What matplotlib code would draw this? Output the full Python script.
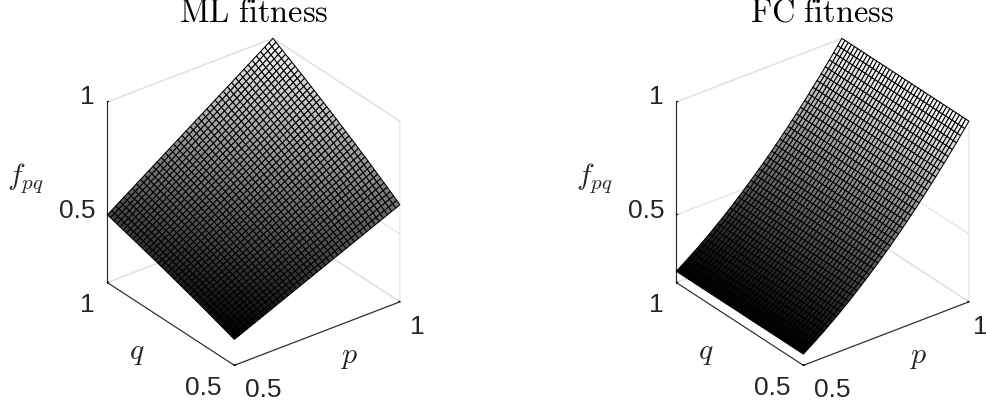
import numpy as np
import matplotlib
matplotlib.use("Agg")
import matplotlib.pyplot as plt

# grid of the surface (same for p and q)
p_grid = [0.5, 0.5125, 0.525, 0.5375, 0.55, 0.5625, 0.575, 0.5875, 0.6, 0.6125, 0.625, 0.6375, 0.65, 0.6625,
          0.675, 0.6875, 0.7, 0.7125, 0.725, 0.7375, 0.75, 0.7625, 0.775, 0.7875, 0.8, 0.8125, 0.825, 0.8375,
          0.85, 0.8625, 0.875, 0.8875, 0.9, 0.9125, 0.925, 0.9375, 0.95, 0.9625, 0.975, 0.9875, 1.0]
q_grid = list(p_grid)

# ML surface is (p value) * (q factor), q factor read along the edges
ml_q_factor = [0.630, 0.640, 0.651, 0.661, 0.671, 0.681, 0.691, 0.701, 0.711, 0.721, 0.731, 0.741, 0.750, 0.760,
               0.770, 0.779, 0.788, 0.798, 0.807, 0.816, 0.826, 0.835, 0.844, 0.853, 0.862, 0.871, 0.880, 0.889,
               0.897, 0.906, 0.915, 0.924, 0.932, 0.941, 0.949, 0.958, 0.966, 0.975, 0.983, 0.992, 1.0]

# FC surface only changes with p
fc_p_values = [0.250, 0.263, 0.276, 0.289, 0.303, 0.316, 0.331, 0.345, 0.360, 0.375, 0.391, 0.406, 0.423, 0.439,
               0.456, 0.473, 0.490, 0.508, 0.526, 0.544, 0.563, 0.581, 0.601, 0.620, 0.640, 0.660, 0.681, 0.701,
               0.723, 0.744, 0.766, 0.788, 0.810, 0.833, 0.856, 0.879, 0.903, 0.926, 0.951, 0.975, 1.0]

titles = ["ML fitness", "FC fitness"]
z_ticks = [0.5, 1]
pq_ticks = [0.5, 1]

plt.rcParams['mathtext.fontset'] = 'cm'
plt.rcParams['font.family'] = ['Liberation Sans', 'DejaVu Sans']
plt.rcParams['grid.color'] = '#e2e2e2'
plt.rcParams['grid.linewidth'] = 0.8

fig_w, fig_h = 987, 408
fig = plt.figure(figsize=(fig_w / 100, fig_h / 100), dpi=100)

P, Q = np.meshgrid(p_grid, q_grid)
Z_ml = np.outer(ml_q_factor, p_grid)
Z_fc = np.tile(fc_p_values, (len(q_grid), 1))


def put_text(x_px, y_px, s, size, color='#262626'):
    # pixel position from the top left corner, like in the picture
    fig.text(x_px / fig_w, 1 - y_px / fig_h, s, fontsize=size, color=color, ha='center', va='center')


def draw_panel(left_px, z, title, dx, p_one_x):
    side = 350.8
    ax = fig.add_axes([left_px / fig_w, 26 / fig_h, side / fig_w, side / fig_h], projection='3d', proj_type='ortho')
    ax.patch.set_alpha(0)
    ax.view_init(elev=30, azim=-127.5)
    ax.set_box_aspect((1, 1, 1))

    # MATLAB style colour by height, black mesh on top
    norm = plt.Normalize(z.min(), z.max())
    ax.plot_surface(P, Q, z, rstride=1, cstride=1, facecolors=plt.cm.gray(norm(z)), shade=False,
                    edgecolor='black', linewidth=0.75)

    ax.set_xlim(0.5, 1, view_margin=0)
    ax.set_ylim(0.5, 1, view_margin=0)
    ax.set_zlim(0.2, 1, view_margin=0)
    ax.set_xticks(pq_ticks, ['', ''])
    ax.set_yticks(pq_ticks, ['', ''])
    ax.set_zticks(z_ticks, ['', ''])

    for axis in (ax.xaxis, ax.yaxis, ax.zaxis):
        axis.set_pane_color((1, 1, 1, 1))
        axis.pane.set_edgecolor('#e2e2e2')
        axis.line.set_color('#262626')
        axis.line.set_linewidth(0.8)
        axis._axinfo['tick']['inward_factor'] = 0
        axis._axinfo['tick']['outward_factor'] = 0.1
        axis._axinfo['tick']['linewidth'] = {True: 0.8, False: 0.5}
        axis._axinfo['tick']['color'] = '#262626'

    # box centre is a bit right of the axes centre
    ax.set_title(r'$\mathrm{' + title.replace(' ', r'\ ') + '}$', fontsize=23.3, x=0.513, y=1.0, pad=27)

    # tick labels
    put_text(87.5 + dx, 97.5, '1', 19)
    put_text(77 + dx, 210.5, '0.5', 19)
    put_text(87 + dx, 305, '1', 19)
    put_text(203 + dx, 388, '0.5', 19)
    put_text(263 + dx, 390, '0.5', 19)
    put_text(p_one_x, 327, '1', 19)

    # axis labels
    put_text(350 + dx, 357, r'$p$', 21.5)
    put_text(137 + dx, 353, r'$q$', 21.5)
    put_text(25 + dx, 178, r'$f_{pq}$', 21.5)
    return ax


draw_panel(73.5, Z_ml, titles[0], 0, 417)
draw_panel(642.5, Z_fc, titles[1], 569, 980.5)  # this 1 is cut by the edge in the original, keep it inside

fig.savefig('out.png', dpi=100)
